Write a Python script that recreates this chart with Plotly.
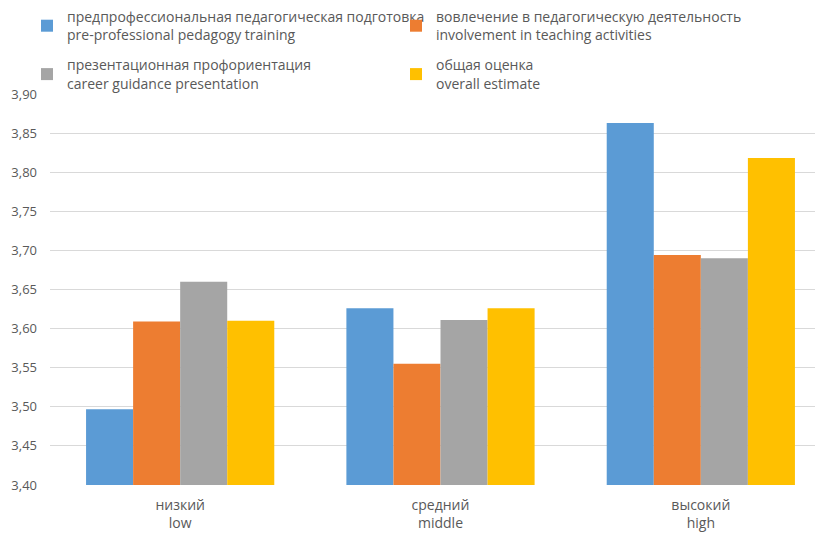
import plotly.graph_objects as go

categories = ["низкий<br>low", "средний<br>middle", "высокий<br>high"]
series_names = [
    "предпрофессиональная педагогическая подготовка<br>pre-professional pedagogy training",
    "вовлечение в педагогическую деятельность<br>involvement in teaching activities",
    "презентационная профориентация<br>career guidance presentation",
    "общая оценка<br>overall estimate",
]
pre_professional = [3.497, 3.626, 3.863]
involvement = [3.609, 3.555, 3.694]
career_guidance = [3.660, 3.611, 3.690]
overall = [3.610, 3.626, 3.818]
colors = ["#5B9BD5", "#ED7D31", "#A5A5A5", "#FFC000"]
y_ticks = [3.40, 3.45, 3.50, 3.55, 3.60, 3.65, 3.70, 3.75, 3.80, 3.85, 3.90]

legend_ids = ["legend", "legend2", "legend", "legend2"]

fig = go.Figure()
for i, (name, vals, col) in enumerate(zip(series_names, [pre_professional, involvement, career_guidance, overall], colors)):
    fig.add_trace(go.Bar(
        x=categories, y=vals, name=name, legend=legend_ids[i], legendgroup=f"g{i}",
        marker=dict(color=col, line=dict(width=0)),
    ))

font_family = "Open Sans, Liberation Sans, sans-serif"
W, H = 823, 535
ML, MR, MT, MB = 42, 0, 86, 58
plot_w = W - ML - MR
plot_h = H - MT - MB

legend_common = dict(
    orientation="v",
    xref="paper", yref="paper",
    xanchor="left", yanchor="top",
    font=dict(family=font_family, size=14, color="#595959"),
    traceorder="grouped", tracegroupgap=9,
    itemwidth=30, bgcolor="rgba(0,0,0,0)",
)
legend_y = 1 + (MT + 7) / plot_h
fig.update_layout(
    width=W, height=H,
    margin=dict(l=ML, r=MR, t=MT, b=MB, autoexpand=False),
    paper_bgcolor="white", plot_bgcolor="white",
    barmode="group", bargap=0.277, bargroupgap=0,
    separators=", ",
    font=dict(family=font_family, size=13, color="#595959"),
    showlegend=True,
    legend=dict(x=(19 - ML) / plot_w, y=legend_y, **legend_common),
    legend2=dict(x=(388 - ML) / plot_w, y=legend_y, **legend_common),
    xaxis=dict(
        range=[-0.5, 2.5], showgrid=False, showline=False, ticks="",
        tickfont=dict(family=font_family, size=14, color="#595959"),
        ticklabelstandoff=10, automargin=False,
    ),
    yaxis=dict(
        range=[3.40, 3.90], tickvals=y_ticks, tickformat=".2f",
        showgrid=True, gridcolor="#D9D9D9", gridwidth=1,
        zeroline=False, showline=False, ticks="",
        tickfont=dict(family=font_family, size=13, color="#595959"),
        ticklabelstandoff=12, automargin=False,
    ),
)

fig.write_html("out.html")
